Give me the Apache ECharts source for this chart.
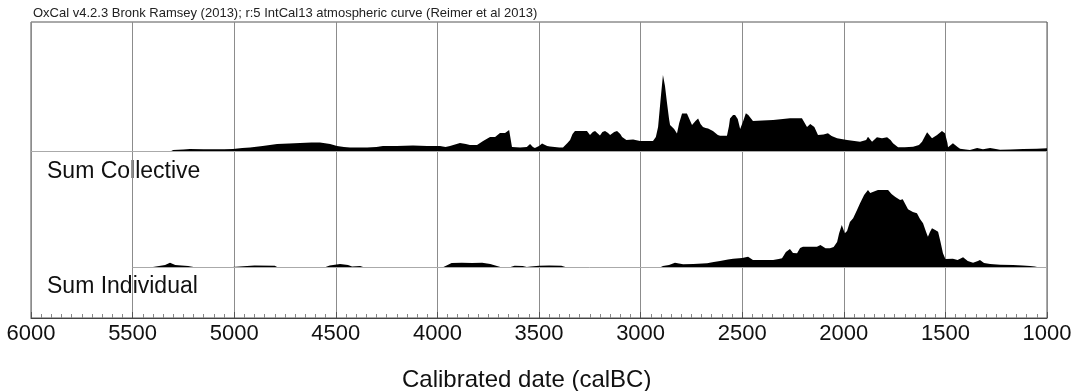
<!DOCTYPE html>
<html>
<head>
<meta charset="utf-8">
<script src="https://cdn.jsdelivr.net/npm/echarts@6/dist/echarts.min.js"></script>
<style>
  html, body { margin: 0; padding: 0; background: #fff; }
  #chart { width: 1084px; height: 391px; }
</style>
</head>
<body>
<div id="chart"></div>
<script>
// calBC years and relative probability
const collectiveYears = [5310, 5300, 5250, 5218, 5150, 5050, 5006, 4960, 4922, 4860, 4789, 4730, 4676, 4620, 4578, 4528, 4494, 4460, 4430, 4380, 4346, 4300, 4268, 4200, 4120, 4050, 3987, 3960, 3938, 3889, 3860, 3840, 3805, 3775, 3741, 3716, 3692, 3667, 3647, 3640, 3633, 3593, 3560, 3544, 3530, 3520, 3500, 3485, 3460, 3446, 3400, 3382, 3360, 3347, 3335, 3323, 3290, 3264, 3249, 3235, 3224, 3200, 3188, 3175, 3160, 3150, 3130, 3116, 3100, 3091, 3070, 3062, 3037, 3003, 2970, 2939, 2925, 2914, 2900, 2890, 2880, 2870, 2860, 2855, 2835, 2821, 2810, 2796, 2772, 2760, 2747, 2730, 2717, 2705, 2693, 2680, 2668, 2644, 2620, 2609, 2575, 2565, 2560, 2545, 2535, 2522, 2510, 2495, 2482, 2470, 2447, 2400, 2348, 2300, 2265, 2206, 2181, 2165, 2156, 2145, 2127, 2100, 2078, 2060, 2033, 1984, 1920, 1890, 1881, 1861, 1837, 1812, 1787, 1770, 1758, 1733, 1700, 1659, 1630, 1615, 1600, 1590, 1566, 1541, 1517, 1502, 1490, 1487, 1463, 1440, 1428, 1400, 1379, 1344, 1315, 1280, 1231, 1180, 1118, 1050, 1000];
const collectiveValues = [0, 1, 1.5, 2, 1.8, 1.8, 2, 3, 3.5, 5, 7, 7.5, 8, 8.5, 8.5, 7, 5, 4, 3.5, 3.5, 3.5, 4, 5, 5, 5.5, 5, 5, 4, 5, 8, 7, 6, 6, 10, 14, 14, 18, 18, 21, 20, 4, 3.5, 4, 7, 4, 3, 5, 7.5, 5, 4.5, 3.5, 3.5, 8, 11, 17, 20, 20, 20, 16, 19, 20, 15.5, 19, 20, 18, 16, 19, 20, 17, 14, 11, 11, 11.5, 10, 10, 10, 14, 24, 55, 76, 65, 48, 32, 26, 22, 17.5, 28, 37.5, 37.5, 32, 26, 30, 32.5, 27, 24, 23, 22.5, 20, 16, 15.3, 15.3, 25, 32.5, 36, 36, 32, 22, 30, 37.7, 36, 30, 30.5, 31, 32, 32.7, 32.7, 24, 27, 28.3, 24, 16, 16.5, 17.7, 15, 12.7, 11, 9.3, 11, 14.3, 9.3, 13.7, 12.7, 13.7, 11, 7.7, 3.7, 3.7, 4.3, 6, 9.3, 15, 18.7, 12.7, 16, 20, 17.7, 8, 3.7, 7.7, 4, 2.3, 1.5, 1, 3, 1.7, 3, 1.3, 1.5, 2, 2.3, 2.7];

const individualYears = [5500, 5400, 5370, 5340, 5316, 5290, 5260, 5227, 5200, 5010, 5006, 4900, 4800, 4789, 4550, 4530, 4479, 4440, 4420, 4380, 4366, 3970, 3963, 3930, 3880, 3830, 3780, 3740, 3707, 3690, 3640, 3620, 3580, 3560, 3540, 3500, 3450, 3390, 3370, 2900, 2890, 2860, 2831, 2791, 2740, 2673, 2640, 2609, 2570, 2545, 2500, 2471, 2447, 2400, 2348, 2320, 2304, 2285, 2265, 2250, 2230, 2215, 2201, 2160, 2132, 2115, 2107, 2090, 2068, 2050, 2033, 2023, 2010, 2004, 1995, 1984, 1970, 1954, 1935, 1920, 1900, 1881, 1870, 1861, 1845, 1832, 1810, 1782, 1765, 1748, 1723, 1710, 1703, 1684, 1660, 1640, 1625, 1610, 1595, 1586, 1576, 1566, 1550, 1536, 1524, 1512, 1500, 1492, 1463, 1440, 1413, 1390, 1364, 1340, 1330, 1310, 1280, 1230, 1167, 1120, 1083, 1060, 1049];
const individualValues = [0, 0, 1, 2, 4.3, 2, 1.5, 1, 0, 0, 1, 1.5, 1.2, 0, 0, 1.5, 3, 2, 0.5, 1, 0, 0, 2, 4, 4.3, 4, 4.3, 3, 1, 0, 0, 1.2, 1, 0, 0.5, 1.2, 1.5, 1.3, 0, 0, 1, 2, 4.3, 2.7, 3, 3.7, 5, 6, 7.5, 8.3, 9, 10.3, 7, 7, 7, 8, 8.7, 15, 18, 14, 13.7, 19, 20.3, 20.3, 20.3, 22, 22, 18.7, 18.7, 20, 25, 33.7, 42, 40, 33.7, 36, 45, 48.7, 57, 63.7, 72, 77, 74, 73.7, 76, 77, 77, 77, 73, 70.3, 67, 67.7, 67.7, 57.7, 55, 53.7, 48, 43.7, 35, 30.3, 35, 38.7, 37, 35.3, 25, 13.7, 8, 7.7, 8.3, 7, 9.7, 6, 4.3, 6, 7, 4, 3, 2.3, 2, 1.5, 1, 0.5, 0];

const individualRange = [5500, 1000];
const xTicks = [6000, 5500, 5000, 4500, 4000, 3500, 3000, 2500, 2000, 1500, 1000];

const font = "'Liberation Sans', Arial, sans-serif";
const chart = echarts.init(document.getElementById('chart'));

const pairs = (xs, ys) => xs.map((x, i) => [x, ys[i]]);

const hiddenX = (gridIndex, showLine) => ({
  type: 'value',
  gridIndex,
  inverse: true,
  min: 1000,
  max: 6000,
  axisLine: {show: showLine, onZero: false, lineStyle: {color: '#aaa', width: 1}},
  axisTick: {show: false},
  axisLabel: {show: false},
  splitLine: {show: false}
});

const hiddenY = (gridIndex, max) => ({
  type: 'value',
  gridIndex,
  min: 0,
  max,
  show: false,
  splitLine: {show: false}
});

const option = {
  animation: false,
  textStyle: {fontFamily: font},
  grid: [
    {left: 31, right: 37, top: 22, bottom: 73, show: true, borderColor: '#555', borderWidth: 1},
    {left: 31, right: 37, top: 22, height: 129},
    {left: 31, right: 37, top: 151, height: 116}
  ],
  xAxis: [
    {
      type: 'value',
      gridIndex: 0,
      inverse: true,
      min: 1000,
      max: 6000,
      interval: 500,
      axisLine: {show: true, lineStyle: {color: '#444', width: 1}},
      axisTick: {show: true, inside: true, length: 6, lineStyle: {color: '#555'}},
      minorTick: {show: true, splitNumber: 10, length: 4, lineStyle: {color: '#888'}},
      axisLabel: {
        color: '#111',
        fontSize: 22,
        margin: 5,
        fontFamily: font,
        formatter: v => xTicks.includes(v) ? String(v) : ''
      },
      splitLine: {show: true, lineStyle: {color: '#8c8c8c', width: 1}}
    },
    hiddenX(1, true),
    hiddenX(2, false)
  ],
  yAxis: [
    hiddenY(0, 1),
    hiddenY(1, 129),
    hiddenY(2, 116)
  ],
  series: [
    {
      name: 'Sum Collective',
      type: 'line',
      xAxisIndex: 1,
      yAxisIndex: 1,
      data: pairs(collectiveYears, collectiveValues),
      showSymbol: false,
      lineStyle: {width: 0, color: '#000'},
      areaStyle: {color: '#000', opacity: 1},
      z: 3
    },
    {
      name: 'Sum Individual',
      type: 'line',
      xAxisIndex: 2,
      yAxisIndex: 2,
      data: pairs(individualYears, individualValues),
      showSymbol: false,
      lineStyle: {width: 0, color: '#000'},
      areaStyle: {color: '#000', opacity: 1},
      z: 3,
      markLine: {
        silent: true,
        symbol: 'none',
        label: {show: false},
        lineStyle: {color: '#aaa', width: 1, type: 'solid'},
        data: [[{coord: [individualRange[0], 0]}, {coord: [individualRange[1], 0]}]]
      }
    }
  ],
  graphic: [
    {
      type: 'text', left: 33, top: 7,
      style: {text: 'OxCal v4.2.3 Bronk Ramsey (2013); r:5 IntCal13 atmospheric curve (Reimer et al 2013)', fill: '#222', fontSize: 13, fontFamily: font}
    },
    {
      type: 'text', left: 47, top: 160,
      style: {text: 'Sum Collective', fill: '#111', fontSize: 23, fontFamily: font}
    },
    {
      type: 'text', left: 47, top: 275,
      style: {text: 'Sum Individual', fill: '#111', fontSize: 23, fontFamily: font}
    },
    {
      type: 'text', left: 402, top: 368,
      style: {text: 'Calibrated date (calBC)', fill: '#111', fontSize: 24, fontFamily: font}
    }
  ]
};

chart.setOption(option);
</script>
</body>
</html>
